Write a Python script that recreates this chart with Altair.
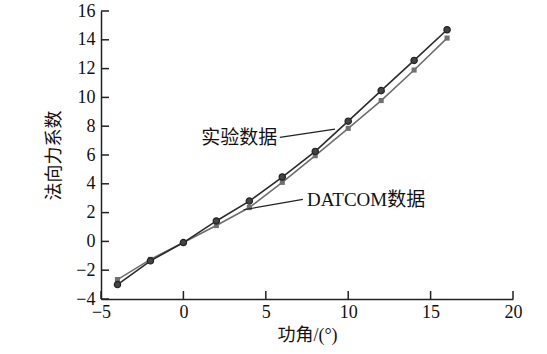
import altair as alt
import pandas as pd

# Data
angle = [-4, -2, 0, 2, 4, 6, 8, 10, 12, 14, 16]
exp_vals = [-3.0, -1.35, -0.08, 1.42, 2.8, 4.47, 6.25, 8.35, 10.47, 12.57, 14.7]
datcom_vals = [-2.65, -1.25, -0.08, 1.1, 2.35, 4.1, 5.95, 7.85, 9.78, 11.9, 14.12]

x_ticks = [-5, 0, 5, 10, 15, 20]
y_ticks = [-4, -2, 0, 2, 4, 6, 8, 10, 12, 14, 16]

# annotations: label, text x/y, leader start x/y, leader end x/y
ann_labels = ["实验数据", "DATCOM数据"]
ann_text_x = [5.7, 7.5]
ann_text_y = [7.2, 2.85]
lead_x1 = [5.85, 7.25]
lead_y1 = [7.22, 2.92]
lead_x2 = [9.2, 3.65]
lead_y2 = [7.8, 2.2]

LFONT = "Liberation Serif"
TFONT = "Liberation Serif, Noto Sans CJK SC"

exp_df = pd.DataFrame({"x": angle, "y": exp_vals})
dat_df = pd.DataFrame({"x": angle, "y": datcom_vals})

xs = alt.Scale(domain=[-5, 20], nice=False, zero=False)
ys = alt.Scale(domain=[-4, 16], nice=False, zero=False)

x_axis = alt.Axis(values=x_ticks, title="功角/(°)", labelPadding=4, titlePadding=5,
                  labelOverlap=False, labelFont=LFONT, labelFontSize=18)
y_axis = alt.Axis(values=y_ticks, title="法向力系数", labelPadding=6, titlePadding=12,
                  labelOverlap=False, labelFont=LFONT, labelFontSize=18)


def X(f):
    return alt.X(f, scale=xs, axis=x_axis)


def Y(f):
    return alt.Y(f, scale=ys, axis=y_axis)


dat_line = alt.Chart(dat_df).mark_line(color="#6e6e6e", strokeWidth=1.6).encode(
    x=X("x:Q"), y=Y("y:Q"))
dat_pts = alt.Chart(dat_df).mark_square(color="#707070", size=26, opacity=1).encode(
    x=X("x:Q"), y=Y("y:Q"))
exp_line = alt.Chart(exp_df).mark_line(color="#2a2a2a", strokeWidth=1.6).encode(
    x=X("x:Q"), y=Y("y:Q"))
exp_pts = alt.Chart(exp_df).mark_point(shape="circle", size=40, filled=True,
                                       fill="#444444", stroke="#222222",
                                       strokeWidth=1.2, opacity=1).encode(
    x=X("x:Q"), y=Y("y:Q"))

# inward ticks
ytick_df = pd.DataFrame({"v": y_ticks})
xtick_df = pd.DataFrame({"v": x_ticks})
ytk = alt.Chart(ytick_df).mark_rule(color="#222", strokeWidth=1.5).encode(
    y=Y("v:Q"), x=alt.value(0), x2=alt.value(8))
xtk = alt.Chart(xtick_df).mark_rule(color="#222", strokeWidth=1.5).encode(
    x=X("v:Q"), y=alt.value(288), y2=alt.value(280))

ann_df = pd.DataFrame({
    "label": ann_labels, "tx": ann_text_x, "ty": ann_text_y,
    "x1": lead_x1, "y1": lead_y1, "x2": lead_x2, "y2": lead_y2,
})
leaders = alt.Chart(ann_df).mark_rule(color="#222", strokeWidth=1.2).encode(
    x=X("x1:Q"), y=Y("y1:Q"), x2="x2:Q", y2="y2:Q")
t1 = alt.Chart(ann_df.iloc[[0]]).mark_text(align="right", baseline="middle",
                                          font=TFONT, fontSize=19, color="#111").encode(
    x=X("tx:Q"), y=Y("ty:Q"), text="label:N")
t2 = alt.Chart(ann_df.iloc[[1]]).mark_text(align="left", baseline="middle",
                                          font=TFONT, fontSize=19, color="#111").encode(
    x=X("tx:Q"), y=Y("ty:Q"), text="label:N")

chart = alt.layer(dat_line, exp_line, dat_pts, exp_pts, ytk, xtk, leaders, t1, t2).properties(
    width=412, height=288,
    autosize=alt.AutoSizeParams(type="none"),
    padding={"left": 101, "top": 11, "right": 34, "bottom": 55},
    background="white",
).configure_view(stroke=None).configure_axis(
    tickSize=0, ticks=False, grid=False, domainColor="#222", domainWidth=1.5,
    labelFont=LFONT, titleFont=TFONT, labelFontSize=18, titleFontSize=18,
    labelColor="#111", titleColor="#111", titleFontWeight="normal",
    labelFlush=False, labelOverlap=False,
)

chart.save("out.html", embed_options={"renderer": "svg", "actions": False})
